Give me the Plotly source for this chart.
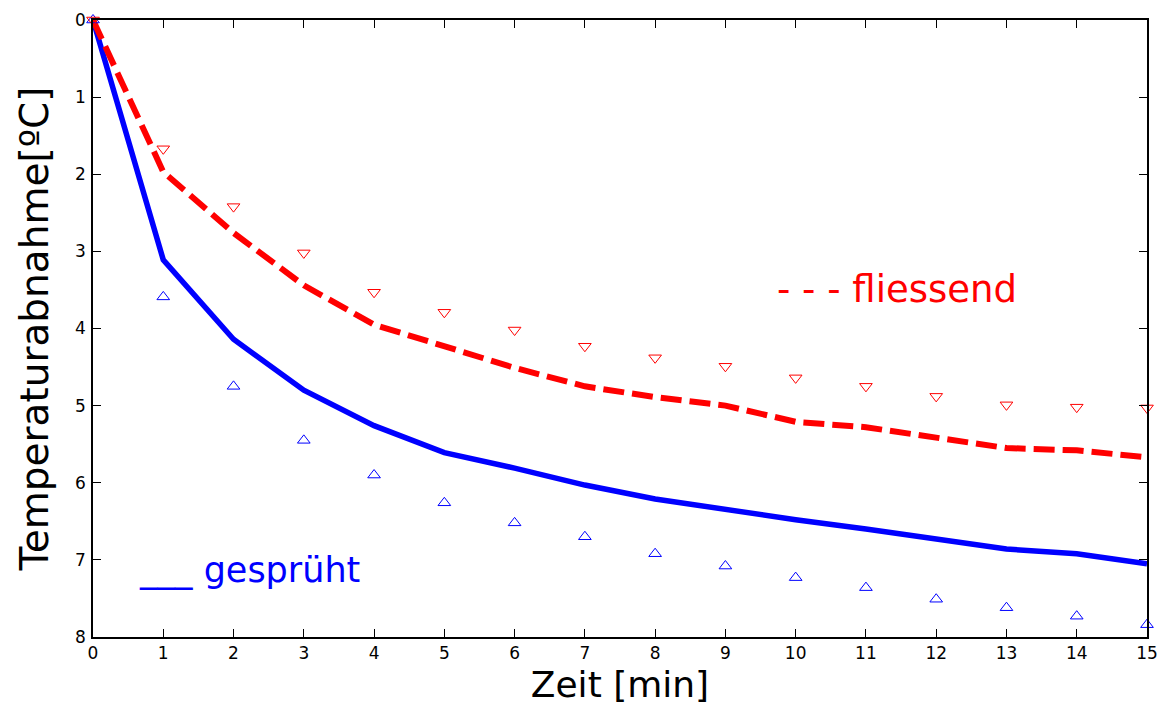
import plotly.graph_objects as go

# data
zeit = list(range(0, 16))
gespr_line = [0, 3.11, 4.14, 4.80, 5.26, 5.61, 5.81, 6.03, 6.21, 6.35, 6.48, 6.60, 6.73, 6.86, 6.92, 7.05]
gespr_pts = [0, 3.59, 4.75, 5.45, 5.90, 6.26, 6.52, 6.70, 6.92, 7.08, 7.23, 7.36, 7.51, 7.62, 7.73, 7.84]
fliess_line = [0, 1.97, 2.76, 3.44, 3.95, 4.23, 4.51, 4.75, 4.89, 5.00, 5.21, 5.28, 5.41, 5.55, 5.58, 5.67]
fliess_pts = [0, 1.67, 2.42, 3.02, 3.53, 3.79, 4.02, 4.23, 4.38, 4.49, 4.64, 4.75, 4.88, 4.99, 5.02, 5.03]
x_ticks = list(range(0, 16))
y_ticks = list(range(0, 9))

FONT = "DejaVu Sans, Liberation Sans, Arial, sans-serif"

fig = go.Figure()
fig.add_trace(go.Scatter(x=zeit, y=gespr_line, mode="lines",
                         line=dict(color="#0000ff", width=5.5), showlegend=False))
fig.add_trace(go.Scatter(x=zeit, y=fliess_line, mode="lines",
                         line=dict(color="#ff0000", width=6, dash="21px,8px"), showlegend=False))
fig.add_trace(go.Scatter(x=zeit, y=gespr_pts, mode="markers",
                         marker=dict(symbol="triangle-up-open", size=11, color="#0000ff",
                                     line=dict(width=1)), showlegend=False, cliponaxis=False))
fig.add_trace(go.Scatter(x=zeit, y=fliess_pts, mode="markers",
                         marker=dict(symbol="triangle-down-open", size=11, color="#ff0000",
                                     line=dict(width=1)), showlegend=False, cliponaxis=False))

fig.add_annotation(x=11.44, y=3.5, text="- - - fliessend", showarrow=False,
                   font=dict(family=FONT, size=37, color="#ff0000"))
fig.add_annotation(x=2.23, y=7.13, text="___ gesprüht", showarrow=False,
                   font=dict(family=FONT, size=35, color="#0000ff"))

# the page body has an 8px margin, so the figure is sized/offset to compensate
fig.update_layout(
    width=1157, height=697,
    margin=dict(l=85, r=18, t=12, b=68),
    plot_bgcolor="white", paper_bgcolor="white",
    font=dict(family=FONT, color="black"),
)
fig.update_xaxes(range=[0, 15], tickvals=x_ticks, ticks="inside", ticklen=8,
                 tickcolor="black", showline=True, linecolor="black", linewidth=1.5,
                 mirror="ticks", showgrid=False, zeroline=False, automargin=False,
                 tickfont=dict(size=17), ticklabelstandoff=0,
                 title=dict(text="Zeit [min]", font=dict(size=36), standoff=14))
fig.update_yaxes(range=[8, 0], tickvals=y_ticks, ticks="inside", ticklen=8,
                 tickcolor="black", showline=True, linecolor="black", linewidth=1.5,
                 mirror="ticks", showgrid=False, zeroline=False, automargin=False,
                 tickfont=dict(size=17), ticklabelstandoff=2,
                 title=dict(text="Temperaturabnahme[ºC]", font=dict(size=39), standoff=14))

fig.write_html("out.html")
